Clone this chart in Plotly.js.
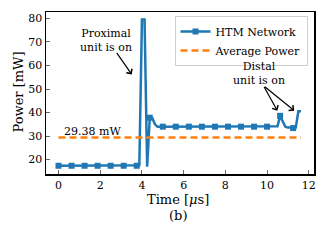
<!DOCTYPE html>
<html>
<head>
<meta charset="utf-8">
<script src="https://cdn.plot.ly/plotly-3.0.1.min.js"></script>
<style>html,body{margin:0;padding:0;background:#fff;}#chart{width:328px;height:240px;}</style>
</head>
<body>
<div id="chart"></div>
<script>
// Time axis samples [µs]
const timeUs = [
  0, 0.125, 0.25, 0.375, 0.5, 0.625, 0.75, 0.875, 1.0, 1.125,
  1.25, 1.375, 1.5, 1.625, 1.75, 1.875, 2.0, 2.125, 2.25, 2.375,
  2.5, 2.625, 2.75, 2.875, 3.0, 3.125, 3.25, 3.375, 3.5, 3.625,
  3.75, 3.875, 4.0, 4.125, 4.25, 4.375, 4.5, 4.625, 4.75, 4.875,
  5.0, 5.125, 5.25, 5.375, 5.5, 5.625, 5.75, 5.875, 6.0, 6.125,
  6.25, 6.375, 6.5, 6.625, 6.75, 6.875, 7.0, 7.125, 7.25, 7.375,
  7.5, 7.625, 7.75, 7.875, 8.0, 8.125, 8.25, 8.375, 8.5, 8.625,
  8.75, 8.875, 9.0, 9.125, 9.25, 9.375, 9.5, 9.625, 9.75, 9.875,
  10.0, 10.125, 10.25, 10.375, 10.5, 10.625, 10.75, 10.875, 11.0, 11.125,
  11.25, 11.375, 11.5, 11.625
];
// HTM network power [mW]
const htmPower = [
  17.4, 17.4, 17.4, 17.4, 17.4, 17.4, 17.4, 17.4, 17.4, 17.4,
  17.4, 17.4, 17.4, 17.4, 17.4, 17.4, 17.4, 17.4, 17.4, 17.4,
  17.4, 17.4, 17.4, 17.4, 17.4, 17.4, 17.4, 17.4, 17.4, 17.4,
  17.4, 17.6, 79.5, 79.5, 17.0, 37.8, 37.6, 35.0, 34.0, 34.0,
  34.0, 34.0, 34.0, 34.0, 34.0, 34.0, 34.0, 34.0, 34.0, 34.0,
  34.0, 34.0, 34.0, 34.0, 34.0, 34.0, 34.0, 34.0, 34.0, 34.0,
  34.0, 34.0, 34.0, 34.0, 34.0, 34.0, 34.0, 34.0, 34.0, 34.0,
  34.0, 34.0, 34.0, 34.0, 34.0, 34.0, 34.0, 34.0, 34.0, 34.0,
  34.0, 34.0, 34.0, 34.0, 34.2, 38.6, 36.0, 34.0, 33.6, 33.5,
  33.4, 33.6, 40.5, 40.5
];
const markEvery = 5;
const averagePower = 29.38;
const averageLabel = "29.38 mW";
const seriesNames = ["HTM Network", "Average Power"];
const xTicks = [0, 2, 4, 6, 8, 10, 12];
const yTicks = [20, 30, 40, 50, 60, 70, 80];

const blue = "#1f77b4", orange = "#ff7f0e";
const FONT = "DejaVu Serif";

// marker-only points (every markEvery-th sample), separated by gaps so no extra line segments
const mX = [], mY = [];
for (let i = 0; i < timeUs.length; i += markEvery) {
  mX.push(timeUs[i], null); mY.push(htmPower[i], null);
}

const traces = [
  {x: timeUs, y: htmPower, type: "scatter", mode: "lines", line: {color: blue, width: 2.5},
   showlegend: false, hoverinfo: "skip"},
  {x: mX, y: mY, type: "scatter", mode: "lines+markers", name: seriesNames[0], connectgaps: false,
   line: {color: blue, width: 2.5}, marker: {symbol: "square", size: 6, color: blue}},
  {x: [timeUs[0], timeUs[timeUs.length - 1]], y: [averagePower, averagePower], type: "scatter", mode: "lines",
   name: seriesNames[1], line: {color: orange, width: 2.5, dash: "7px,4px"}}
];

const plotTop = 12, plotBottom = 174, plotLeft = 46, plotRight = 314;
const py = p => (plotBottom - p) / (plotBottom - plotTop);
const px = p => (p - plotLeft) / (plotRight - plotLeft);

const arrowStyle = {text: "", showarrow: true, arrowhead: 4, arrowsize: 1.1, arrowwidth: 1.2,
                    arrowcolor: "#000", standoff: 0, axref: "x", ayref: "y", xref: "x", yref: "y"};

const layout = {
  width: 328, height: 240,
  margin: {l: plotLeft, r: 328 - plotRight, t: plotTop, b: 240 - plotBottom},
  paper_bgcolor: "#fff", plot_bgcolor: "#fff",
  font: {family: FONT, size: 11, color: "#000"},
  showlegend: true,
  legend: {x: px(307.5), y: py(16), xanchor: "right", yanchor: "top",
           bgcolor: "rgba(255,255,255,0.8)", bordercolor: "#d0d0d0", borderwidth: 1,
           font: {family: FONT, size: 11, color: "#000"}, tracegroupgap: 0},
  xaxis: {range: [-0.6, 12.25], tickvals: xTicks, ticktext: xTicks.map(String),
          ticks: "inside", ticklen: 4, tickcolor: "#666", tickwidth: 1,
          showline: true, mirror: true, linecolor: "#000", linewidth: 1.5,
          showgrid: false, zeroline: false, tickfont: {family: FONT, size: 11}},
  yaxis: {range: [13.9, 82.7], tickvals: yTicks, ticktext: yTicks.map(String),
          ticks: "inside", ticklen: 4, tickcolor: "#666", tickwidth: 1,
          showline: true, mirror: true, linecolor: "#000", linewidth: 1.5,
          showgrid: false, zeroline: false, tickfont: {family: FONT, size: 11}},
  annotations: [
    {xref: "paper", yref: "paper", x: px(18), y: py(92.5), text: "Power [mW]", textangle: -90,
     showarrow: false, font: {family: FONT, size: 13}, xanchor: "center", yanchor: "middle"},
    {xref: "paper", yref: "paper", x: px(178), y: py(199), text: "Time [<i>μ</i>s]",
     showarrow: false, font: {family: FONT, size: 13}, xanchor: "center", yanchor: "middle"},
    {xref: "paper", yref: "paper", x: px(178), y: py(215), text: "(b)",
     showarrow: false, font: {family: FONT, size: 13}, xanchor: "center", yanchor: "middle"},
    {xref: "x", yref: "y", x: 1.63, y: 31.9, text: averageLabel, showarrow: false,
     font: {family: FONT, size: 11}, xanchor: "center", yanchor: "middle"},
    {xref: "x", yref: "y", x: 2.3, y: 70.5, text: "Proximal<br>unit is on", showarrow: false,
     font: {family: FONT, size: 11}, xanchor: "center", yanchor: "middle", align: "center"},
    Object.assign({x: 3.51, y: 56.2, ax: 2.74, ay: 66}, arrowStyle),
    {xref: "x", yref: "y", x: 9.6, y: 56.6, text: "Distal<br>unit is on", showarrow: false,
     font: {family: FONT, size: 11}, xanchor: "center", yanchor: "middle", align: "center"},
    Object.assign({x: 10.49, y: 40.8, ax: 9.82, ay: 51.5}, arrowStyle),
    Object.assign({x: 11.3, y: 40.8, ax: 9.82, ay: 51.5}, arrowStyle)
  ]
};

Plotly.newPlot("chart", traces, layout, {staticPlot: true, displayModeBar: false});
</script>
</body>
</html>
